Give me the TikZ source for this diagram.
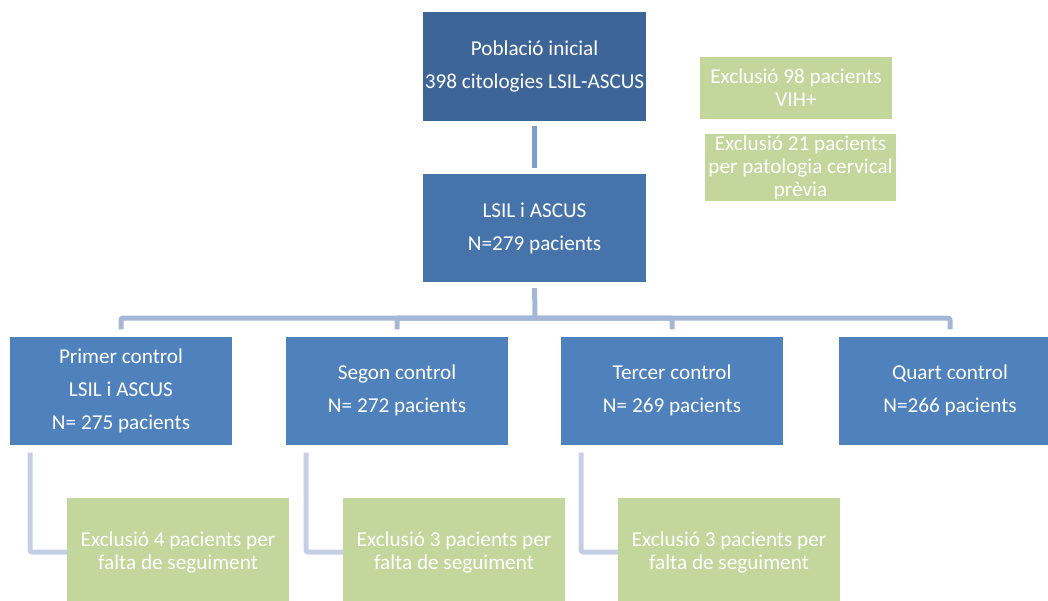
\documentclass[tikz,border=0pt]{standalone}
\usepackage{fontspec}
\setmainfont{Carlito}
\definecolor{topblue}{HTML}{3E6597}
\definecolor{midblue}{HTML}{4773AB}
\definecolor{lvlblue}{HTML}{4F81BD}
\definecolor{greenbox}{HTML}{C3D69B}
\definecolor{conntop}{HTML}{7C9CCE}
\definecolor{connbus}{HTML}{A4B7D7}
\definecolor{connex}{HTML}{C4CFE5}
\tikzset{
  bluebox/.style={draw=none, text=white, align=center, inner sep=0pt,
    minimum width=222pt, minimum height=108pt,
    font=\fontsize{21.2}{33}\selectfont},
  greenb/.style={fill=greenbox, draw=none, text=white, align=center, inner sep=0pt,
    font=\fontsize{21.2}{23}\selectfont},
  conn/.style={line width=5pt, line join=round},
}
\begin{document}
\begin{tikzpicture}[x=1pt,y=-1pt]
\useasboundingbox (0,0) rectangle (1048,601);
\clip (0,0) rectangle (1048,601);
% main boxes
\node[bluebox, fill=topblue, minimum width=223pt, minimum height=109pt] (top) at (534.5,66.5)
  {Població inicial\\398 citologies LSIL-ASCUS};
\node[bluebox, fill=midblue, minimum width=223pt] (lsil) at (534.5,228)
  {LSIL i ASCUS\\N=279 pacients};
\node[bluebox, fill=lvlblue] (c1) at (121,390.5)
  {Primer control\\LSIL i ASCUS\\N= 275 pacients};
\node[bluebox, fill=lvlblue] (c2) at (397,390.5)
  {Segon control\\N= 272 pacients};
\node[bluebox, fill=lvlblue] (c3) at (672,390.5)
  {Tercer control\\N= 269 pacients};
\node[bluebox, fill=lvlblue] (c4) at (950,390.5)
  {Quart control\\N=266 pacients};
% right exclusion boxes
\node[greenb, minimum width=192pt, minimum height=62pt] (exA) at (796,88)
  {Exclusió 98 pacients\\VIH+};
\node[greenb, minimum width=191pt, minimum height=67pt] (exB) at (800.5,167.5)
  {Exclusió 21 pacients\\per patologia cervical\\prèvia};
% bottom exclusion boxes
\node[greenb, minimum width=222pt, minimum height=108pt] (e1) at (178,552)
  {Exclusió 4 pacients per\\falta de seguiment};
\node[greenb, minimum width=222pt, minimum height=108pt] (e2) at (454,552)
  {Exclusió 3 pacients per\\falta de seguiment};
\node[greenb, minimum width=222pt, minimum height=108pt] (e3) at (729,552)
  {Exclusió 3 pacients per\\falta de seguiment};
% connectors
\draw[conn, draw=conntop, shorten <=5pt, shorten >=6pt] (top) -- (lsil);
\coordinate (bus) at (535,318);
\draw[conn, draw=connbus, shorten <=6pt] (lsil.south) -- (bus);
\draw[conn, draw=connbus, shorten >=7pt, rounded corners=2pt] (bus) -| (c1.north);
\draw[conn, draw=connbus, shorten >=7pt, rounded corners=2pt] (bus) -| (c2.north);
\draw[conn, draw=connbus, shorten >=7pt, rounded corners=2pt] (bus) -| (c3.north);
\draw[conn, draw=connbus, shorten >=7pt, rounded corners=2pt] (bus) -| (c4.north);
\coordinate (k1) at (30,552);
\coordinate (k2) at (306,552);
\coordinate (k3) at (581,552);
\draw[conn, draw=connex, rounded corners=2pt, shorten <=8pt] (c1.south -| k1) -- (k1) -- (e1.west);
\draw[conn, draw=connex, rounded corners=2pt, shorten <=8pt] (c2.south -| k2) -- (k2) -- (e2.west);
\draw[conn, draw=connex, rounded corners=2pt, shorten <=8pt] (c3.south -| k3) -- (k3) -- (e3.west);
\end{tikzpicture}
\end{document}
